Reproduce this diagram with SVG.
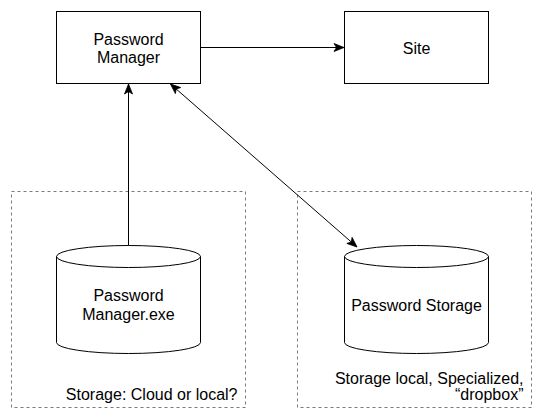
<svg xmlns="http://www.w3.org/2000/svg" width="544" height="418" viewBox="0 0 544 418">
<style>
.box{fill:#fff;stroke:#000;stroke-width:1}
.grp{fill:none;stroke:#7a7a7a;stroke-width:1;stroke-dasharray:3 3}
.cyl{fill:#fff;stroke:#000;stroke-width:1}
.t{font-family:"Liberation Sans",Arial,Helvetica,sans-serif;font-size:16px;fill:#000}
.m{text-anchor:middle}
.e{text-anchor:end}
.c{fill:none;stroke:#000;stroke-width:1}
</style>
<defs>
<marker id="ah" markerUnits="userSpaceOnUse" markerWidth="12" markerHeight="10" viewBox="0 0 12 10" refX="11" refY="5" orient="auto-start-reverse">
<path d="M1,1 L11,5 L1,9 L3.5,5 Z" fill="#000" stroke="#000" stroke-width="0.8"/>
</marker>
</defs>
<g id="group-left">
<rect class="grp" x="11.5" y="191.5" width="234" height="216"/>
<text class="t e" x="237.5" y="400">Storage: Cloud or local?</text>
</g>
<g id="group-right">
<rect class="grp" x="297.5" y="191.5" width="234" height="216"/>
<text class="t e" x="523.5" y="384">Storage local, Specialized,</text>
<text class="t e" x="523.5" y="400">“dropbox”</text>
</g>
<g id="password-manager">
<rect class="box" x="56.5" y="11.5" width="144" height="72"/>
<text class="t m" x="128.5" y="44.5">Password</text>
<text class="t m" x="128.5" y="62.5">Manager</text>
</g>
<g id="site">
<rect class="box" x="344.5" y="11.5" width="144" height="72"/>
<text class="t m" x="416.5" y="53.5">Site</text>
</g>
<g id="password-manager-exe">
<path class="cyl" d="M56.5,256.5 A72,11 0 0 1 200.5,256.5 L200.5,342.5 A72,11 0 0 1 56.5,342.5 Z M56.5,256.5 A72,11 0 0 0 200.5,256.5"/>
<text class="t m" x="128.5" y="301">Password</text>
<text class="t m" x="128.5" y="320">Manager.exe</text>
</g>
<g id="password-storage">
<path class="cyl" d="M344.5,256.5 A72,11 0 0 1 488.5,256.5 L488.5,342.5 A72,11 0 0 1 344.5,342.5 Z M344.5,256.5 A72,11 0 0 0 488.5,256.5"/>
<text class="t m" x="416.5" y="311">Password Storage</text>
</g>
<g id="connectors">
<line class="c" x1="200.5" y1="47.5" x2="344" y2="47.5" marker-end="url(#ah)"/>
<line class="c" x1="128.5" y1="245.5" x2="128.5" y2="84" marker-end="url(#ah)"/>
<line class="c" x1="170.5" y1="84" x2="357" y2="247" marker-start="url(#ah)" marker-end="url(#ah)"/>
</g>
</svg>
